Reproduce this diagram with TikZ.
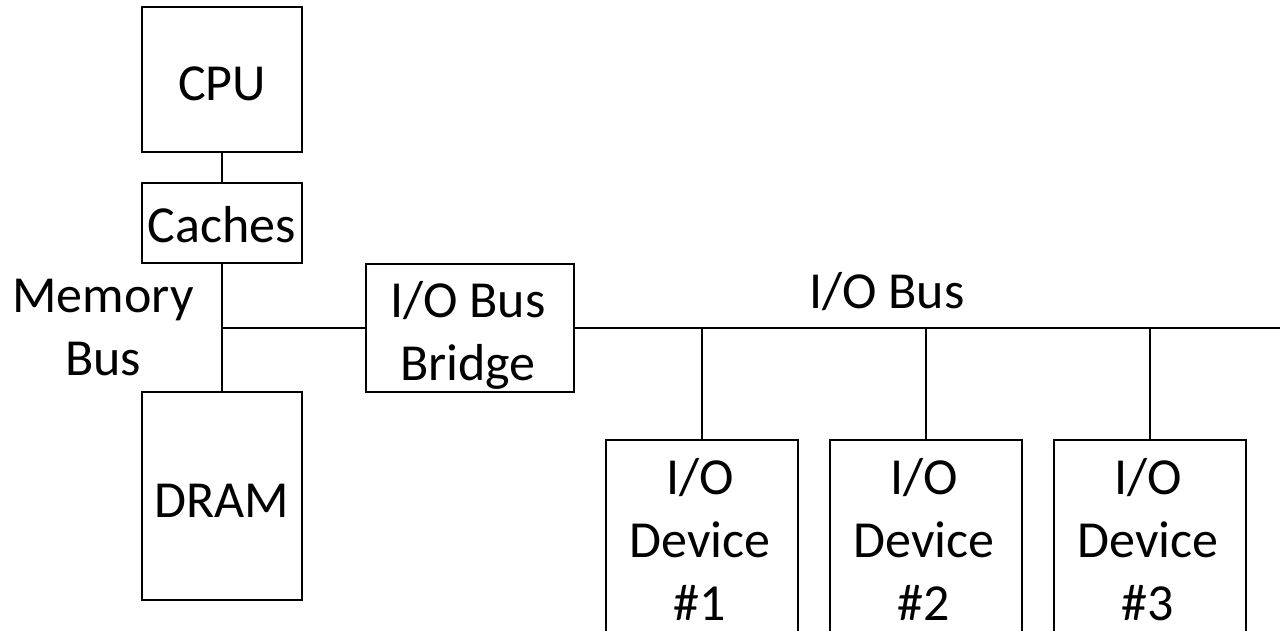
\documentclass[tikz,border=0pt]{standalone}
\usepackage{fontspec}
\setmainfont{Carlito}
\begin{document}
\begin{tikzpicture}[x=1pt,y=-1pt,
  box/.style={draw=black,line width=2.5pt,rectangle,inner sep=0pt},
  lbl/.style={anchor=base,inner sep=0pt,align=center,font=\fontsize{52}{63}\selectfont},
  wire/.style={draw=black,line width=2.5pt}]
\useasboundingbox (0,0) rectangle (1280,631);
\begin{scope}
\clip (0,0) rectangle (1280,631);
% boxes
\node[box,minimum width=160pt,minimum height=145pt] (cpu) at (222,79.5) {};
\node[box,minimum width=160pt,minimum height=80pt] (caches) at (222,223) {};
\node[box,minimum width=160pt,minimum height=208pt] (dram) at (222,496) {};
\node[box,minimum width=208pt,minimum height=128pt] (bridge) at (470,328) {};
\node[box,minimum width=192pt,minimum height=220pt] (dev1) at (702,550) {};
\node[box,minimum width=192pt,minimum height=220pt] (dev2) at (926,550) {};
\node[box,minimum width=192pt,minimum height=220pt] (dev3) at (1150,550) {};
% texts (base = baseline of last line)
\node[lbl] (cput) at (222,101) {CPU};
\node[lbl] (cachest) at (222,243) {Caches};
\node[lbl] (dramt) at (222,517) {DRAM};
\node[lbl] (bridget) at (468,380) {I/O Bus\\Bridge};
\node[lbl] (membus) at (103,375) {Memory\\Bus};
\node[lbl] (iobus) at (887,308) {I/O Bus};
\node[lbl] (dev1t) at (700,620) {I/O\\Device\\\#1};
\node[lbl] (dev2t) at (924,620) {I/O\\Device\\\#2};
\node[lbl] (dev3t) at (1148,620) {I/O\\Device\\\#3};
% connectors
\coordinate (j) at (222,328);
\coordinate (busend) at (1290,328);
\coordinate (t1) at (702,328);
\coordinate (t2) at (926,328);
\coordinate (t3) at (1150,328);
\draw[wire] (cpu.south) -- (caches.north);
\draw[wire] (caches.south) -- (dram.north);
\draw[wire] (j) -- (bridge.west);
\draw[wire] (bridge.east) -- (busend);
\draw[wire] (t1) -- (dev1.north);
\draw[wire] (t2) -- (dev2.north);
\draw[wire] (t3) -- (dev3.north);
\end{scope}
\end{tikzpicture}
\end{document}
